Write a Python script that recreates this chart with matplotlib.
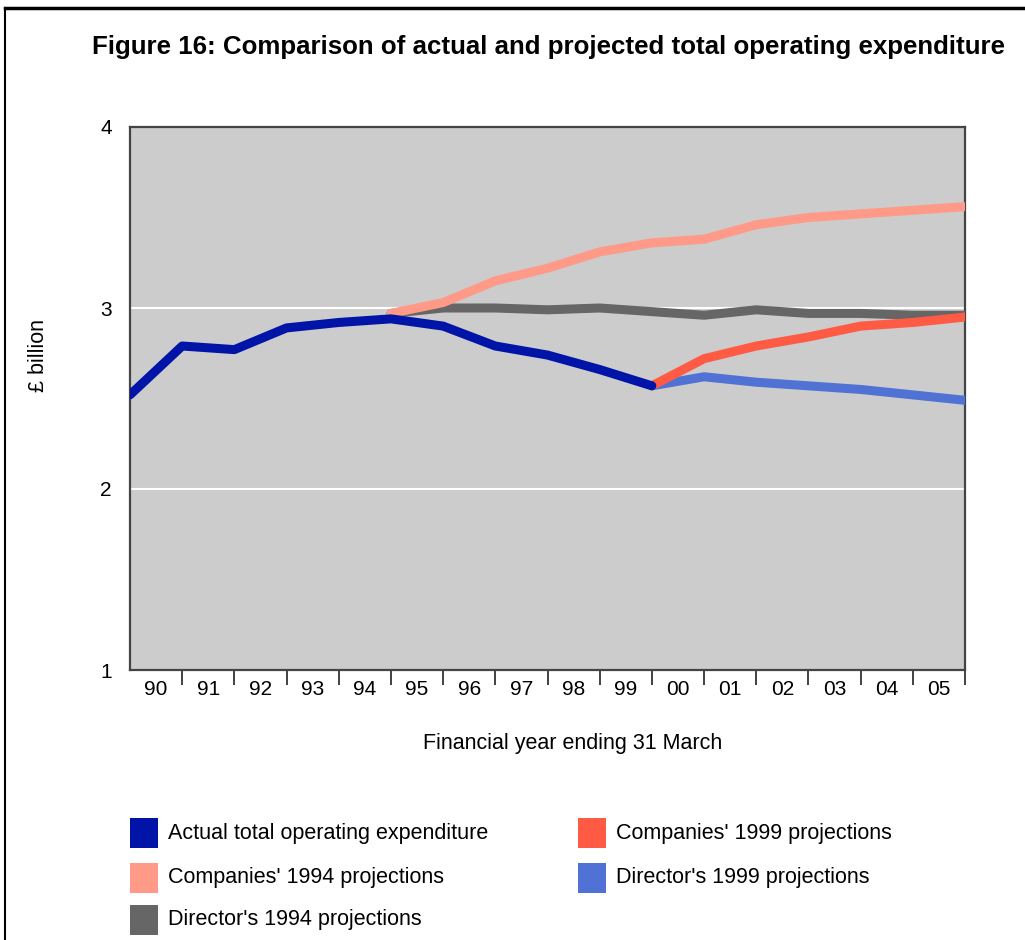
import matplotlib
matplotlib.use("Agg")
import matplotlib.pyplot as plt
from matplotlib.lines import Line2D
from matplotlib.patches import Rectangle

# Financial years (category labels, year ending 31 March)
years = ["90", "91", "92", "93", "94", "95", "96", "97",
         "98", "99", "00", "01", "02", "03", "04", "05"]

# £ billion, one value per year boundary
actual = [2.52, 2.79, 2.77, 2.89, 2.92, 2.94, 2.90, 2.79, 2.74, 2.66, 2.57]
companies_1994 = [2.97, 3.03, 3.15, 3.22, 3.31, 3.36, 3.38, 3.46, 3.50, 3.52, 3.54, 3.56]
director_1994 = [2.97, 3.00, 3.00, 2.99, 3.00, 2.98, 2.96, 2.99, 2.97, 2.97, 2.96, 2.96]
companies_1999 = [2.57, 2.72, 2.79, 2.84, 2.90, 2.92, 2.95]
director_1999 = [2.57, 2.62, 2.59, 2.57, 2.55, 2.52, 2.49]

start_actual = 0
start_1994 = 5
start_1999 = 10

series = [
    ("Actual total operating expenditure", actual, start_actual, "#0014a8"),
    ("Companies' 1994 projections", companies_1994, start_1994, "#ff9988"),
    ("Director's 1994 projections", director_1994, start_1994, "#666666"),
    ("Companies' 1999 projections", companies_1999, start_1999, "#ff5a44"),
    ("Director's 1999 projections", director_1999, start_1999, "#4f72d4"),
]

plt.rcParams["font.family"] = ["Liberation Sans", "DejaVu Sans"]

fig = plt.figure(figsize=(10.25, 9.4), dpi=100)
ax = fig.add_axes([130 / 1025, 270 / 940, 835 / 1025, 543 / 940])
ax.set_facecolor("#cccccc")

for y in [2, 3]:
    ax.axhline(y, color="white", lw=1.5, zorder=1)

# draw order: projections first, actual on top of the 1994 start point
draw_order = [2, 1, 4, 3, 0]
for idx in draw_order:
    label, vals, start, color = series[idx]
    xs = list(range(start, start + len(vals)))
    ax.plot(xs, vals, color=color, lw=6.5, solid_capstyle="round",
            solid_joinstyle="round", zorder=3)

n = len(years)
ax.set_xlim(0, n)
ax.set_ylim(1, 4)
ax.set_yticks([1, 2, 3, 4])
ax.set_yticklabels(["1", "2", "3", "4"], fontsize=15)
ax.tick_params(axis="y", length=0, pad=13)

ax.set_xticks(range(1, n + 1))
ax.set_xticklabels([])
ax.tick_params(axis="x", which="major", direction="out", length=11,
               width=1.3, color="#333333")
ax.set_xticks([i + 0.5 for i in range(n)], minor=True)
ax.set_xticklabels(years, minor=True, fontsize=15)
ax.tick_params(axis="x", which="minor", length=0, pad=7)

for side in ["left", "bottom", "right", "top"]:
    ax.spines[side].set_color("#444444")
    ax.spines[side].set_linewidth(1.6)

fig.text(38 / 1025, 1 - 355 / 940, "£ billion", rotation=90, fontsize=15.5,
         ha="center", va="center")
fig.text(573 / 1025, 1 - 743 / 940, "Financial year ending 31 March",
         fontsize=15.5, ha="center", va="center")

fig.text(549 / 1025, 1 - 47 / 940,
         "Figure 16: Comparison of actual and projected total operating expenditure",
         fontsize=18.6, fontweight="bold", ha="center", va="center")

# Legend built as squares and text in two columns
legend_pos = [
    (130, 833), (130, 878), (130, 920), (578, 833), (578, 878),
]
for (label, vals, start, color), (lx, ly) in zip(series, legend_pos):
    fig.patches.append(Rectangle((lx / 1025, 1 - (ly + 15) / 940), 28 / 1025, 30 / 940,
                                 transform=fig.transFigure, facecolor=color,
                                 edgecolor="none"))
    fig.text((lx + 38) / 1025, 1 - ly / 940, label, fontsize=15.5,
             ha="left", va="center")

# Page frame
fig.add_artist(Line2D([5 / 1025, 1], [1 - 8 / 940, 1 - 8 / 940],
                      transform=fig.transFigure, color="black", lw=2.5))
fig.add_artist(Line2D([5 / 1025, 5 / 1025], [0, 1 - 8 / 940],
                      transform=fig.transFigure, color="black", lw=1.5))

fig.savefig("out.png", dpi=100)
